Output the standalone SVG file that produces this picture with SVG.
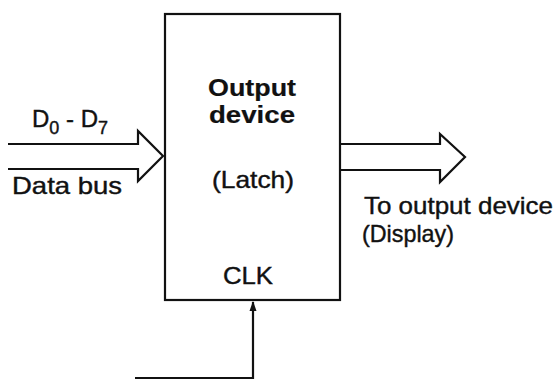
<svg xmlns="http://www.w3.org/2000/svg" width="555" height="381" viewBox="0 0 555 381">
<style>
.ln{fill:none;stroke:#111;stroke-width:2.2;stroke-linejoin:miter}
.t{font-family:"Liberation Sans",Arial,sans-serif;font-size:24px;fill:#111;stroke:#111;stroke-width:0.4}
.b{font-weight:bold;stroke-width:0.2}
</style>
<rect width="555" height="381" fill="#fff"/>
<g id="latch">
<rect x="165" y="14" width="175" height="286" class="ln" stroke-width="3"/>
<text class="t b" x="252" y="96" text-anchor="middle" textLength="88" lengthAdjust="spacingAndGlyphs">Output</text>
<text class="t b" x="252" y="123" text-anchor="middle" textLength="86" lengthAdjust="spacingAndGlyphs">device</text>
<text class="t" x="253" y="188" text-anchor="middle" textLength="82" lengthAdjust="spacingAndGlyphs">(Latch)</text>
<text class="t" x="248" y="284" text-anchor="middle" textLength="50" lengthAdjust="spacingAndGlyphs">CLK</text>
</g>
<g id="labels">
<text class="t" x="32" y="127" font-size="25">D<tspan font-size="18" dy="7">0</tspan><tspan dy="-7"> - D</tspan><tspan font-size="18" dy="7">7</tspan></text>
<text class="t" x="12" y="194" textLength="110" lengthAdjust="spacingAndGlyphs">Data bus</text>
<text class="t" x="364" y="214" textLength="189" lengthAdjust="spacingAndGlyphs">To output device</text>
<text class="t" x="362" y="242" textLength="92" lengthAdjust="spacingAndGlyphs">(Display)</text>
</g>
<g id="connectors">
<path class="ln" d="M8 144 H138 V131 L163 156 L138 181 V169 H8"/>
<path class="ln" d="M341 144 H440 V134 L465 157 L440 182 V170 H341"/>
<path class="ln" d="M135 378 H253 V302"/>
<path d="M253 301 L249.5 311 H256.5 Z" fill="#111"/>
</g>
</svg>
